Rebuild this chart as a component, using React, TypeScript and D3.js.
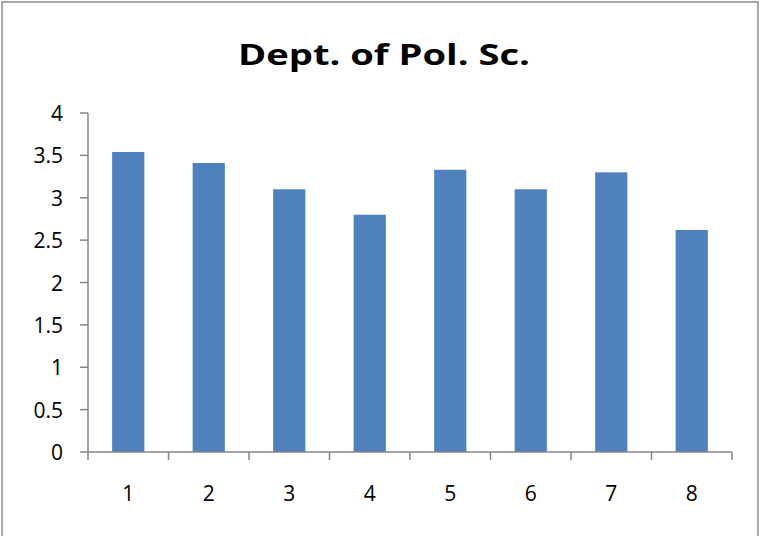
import React from "react";
import * as d3 from "d3";

const categories = ["1", "2", "3", "4", "5", "6", "7", "8"];
const values = [3.54, 3.41, 3.10, 2.80, 3.33, 3.10, 3.30, 2.62];
const yTicks = [0, 0.5, 1, 1.5, 2, 2.5, 3, 3.5, 4];
const title = "Dept. of Pol. Sc.";

export default function App() {
  const W = 761, H = 536;
  const left = 88, right = 732, top = 113, bottom = 452;
  const x = d3.scaleBand<string>().domain(categories).range([left, right]).paddingInner(0.6).paddingOuter(0.3);
  const xb = d3.scaleBand<string>().domain(categories).range([left, right]);
  const y = d3.scaleLinear().domain([0, 4]).range([bottom, top]);
  const font = "'Open Sans', 'Liberation Sans', sans-serif";
  return (
    <svg width={W} height={H} style={{ position: "absolute", left: 0, top: 0, background: "#fff" }} fontFamily={font}>
      <rect x={2} y={2} width={756} height={560} fill="#fff" stroke="#8c8c8c" strokeWidth={1.5} />
      <text x={384} y={65} textAnchor="middle" fontSize={29} fontWeight="bold" fill="#000" textLength={292} lengthAdjust="spacingAndGlyphs">{title}</text>
      {categories.map((c, i) => (
        <rect key={c} x={x(c)!} y={y(values[i])} width={x.bandwidth()} height={bottom - y(values[i])} fill="#4f81bd" />
      ))}
      <line x1={left} x2={left} y1={top} y2={bottom} stroke="#868686" strokeWidth={1.5} />
      {yTicks.map(t => (
        <g key={t}>
          <line x1={left - 8} x2={left} y1={y(t)} y2={y(t)} stroke="#868686" strokeWidth={1.5} />
          <text x={63} y={y(t) + 8} textAnchor="end" fontSize={21} fill="#000">{String(t)}</text>
        </g>
      ))}
      <line x1={left} x2={right} y1={bottom} y2={bottom} stroke="#868686" strokeWidth={1.5} />
      {[...categories.map(c => xb(c)!), right].map((p, i) => (
        <line key={i} x1={p} x2={p} y1={bottom} y2={bottom + 8} stroke="#868686" strokeWidth={1.5} />
      ))}
      {categories.map(c => (
        <text key={c} x={xb(c)! + xb.bandwidth() / 2} y={501} textAnchor="middle" fontSize={21} fill="#000">{c}</text>
      ))}
    </svg>
  );
}
